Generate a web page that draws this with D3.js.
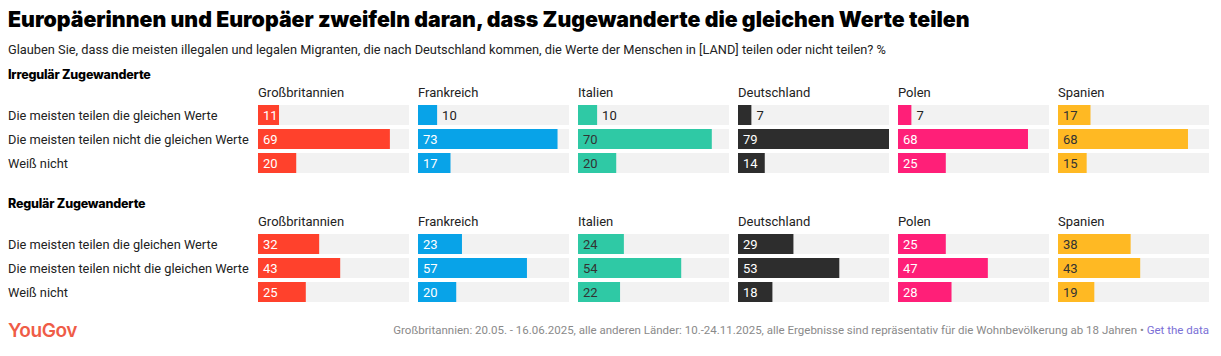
<!DOCTYPE html>
<html>
<head>
<meta charset="utf-8">
<script src="https://cdn.jsdelivr.net/npm/d3@7"></script>
<style>
  html, body { margin: 0; padding: 0; background: #fff; }
  svg { display: block; }
</style>
</head>
<body>
<svg id="chart" width="1221" height="356"></svg>
<script>
const title = "Europäerinnen und Europäer zweifeln daran, dass Zugewanderte die gleichen Werte teilen";
const subtitle = "Glauben Sie, dass die meisten illegalen und legalen Migranten, die nach Deutschland kommen, die Werte der Menschen in [LAND] teilen oder nicht teilen? %";
const sections = ["Irregulär Zugewanderte", "Regulär Zugewanderte"];
const countries = ["Großbritannien", "Frankreich", "Italien", "Deutschland", "Polen", "Spanien"];
const answers = ["Die meisten teilen die gleichen Werte", "Die meisten teilen nicht die gleichen Werte", "Weiß nicht"];
const colors = ["#ff412c", "#08a3e8", "#2fc9a5", "#2d2d2d", "#ff1f78", "#ffb923"];
const labelColors = ["#ffffff", "#ffffff", "#333333", "#ffffff", "#ffffff", "#333333"];
// values per country: [gleichen, nicht gleichen, weiß nicht]
const irregular = [
  [11, 69, 20],
  [10, 73, 17],
  [10, 70, 20],
  [7, 79, 14],
  [7, 68, 25],
  [17, 68, 15]
];
const regular = [
  [32, 43, 25],
  [23, 57, 20],
  [24, 54, 22],
  [29, 53, 18],
  [25, 47, 28],
  [38, 43, 19]
];
const footnote = "Großbritannien: 20.05. - 16.06.2025, alle anderen Länder: 10.-24.11.2025, alle Ergebnisse sind repräsentativ für die Wohnbevölkerung ab 18 Jahren • ";
const linkText = "Get the data";

const svg = d3.select("#chart");
const bodyFont = "Roboto, 'Noto Sans', sans-serif";
const headFont = "Inter, 'Noto Sans', sans-serif";

// Title
svg.append("text").attr("x", 8).attr("y", 27)
  .attr("font-family", headFont).attr("font-weight", 900).attr("font-size", 21.3)
  .attr("fill", "#000").text(title);
svg.append("text").attr("x", 8).attr("y", 54)
  .attr("font-family", bodyFont).attr("font-size", 12.8)
  .attr("fill", "#222").text(subtitle);

const allVals = irregular.flat().concat(regular.flat());
const panelW = 151;
const x = d3.scaleLinear().domain([0, d3.max(allVals)]).range([0, panelW]);
const px = d3.scaleBand().domain(countries).range([258, 258 + 160 * 6 - 9]).paddingInner(9 / 160).paddingOuter(0);
const rowY = d3.scaleBand().domain(answers).range([0, 68]).paddingInner(4 / 24).paddingOuter(0);

const sectionData = [irregular, regular];
const sectionTop = [79, 208];

sectionData.forEach((data, si) => {
  const top = sectionTop[si];
  const g = svg.append("g");
  g.append("text").attr("x", 8).attr("y", top)
    .attr("font-family", headFont).attr("font-weight", 800).attr("font-size", 12.5)
    .attr("letter-spacing", "-0.2px")
    .attr("fill", "#000").text(sections[si]);
  const barTop = top + 26;
  // row labels
  g.selectAll(".rl").data(answers).join("text")
    .attr("x", 8).attr("y", d => barTop + rowY(d) + 14.5)
    .attr("font-family", bodyFont).attr("font-size", 12.8)
    .attr("fill", "#222").text(d => d);
  countries.forEach((c, ci) => {
    const x0 = px(c);
    g.append("text").attr("x", x0).attr("y", top + 18)
      .attr("font-family", bodyFont).attr("font-size", 13)
      .attr("fill", "#222").text(c);
    const rows = answers.map((a, ai) => ({ a, v: data[ci][ai] }));
    g.selectAll(".bg" + ci).data(rows).join("rect")
      .attr("x", x0).attr("y", d => barTop + rowY(d.a))
      .attr("width", panelW).attr("height", rowY.bandwidth())
      .attr("fill", "#f2f2f2");
    g.selectAll(".bar" + ci).data(rows).join("rect")
      .attr("x", x0).attr("y", d => barTop + rowY(d.a))
      .attr("width", d => x(d.v)).attr("height", rowY.bandwidth())
      .attr("fill", colors[ci]);
    g.selectAll(".val" + ci).data(rows).join("text")
      .attr("x", d => d.v <= 10 ? x0 + x(d.v) + 5 : x0 + 5)
      .attr("y", d => barTop + rowY(d.a) + 14.5)
      .attr("font-family", bodyFont).attr("font-size", 13)
      .attr("fill", d => d.v <= 10 ? "#222" : labelColors[ci])
      .text(d => d.v);
  });
});

// Footer
svg.append("text").attr("x", 8).attr("y", 337)
  .attr("font-family", headFont).attr("font-weight", 600).attr("font-size", 19)
  .attr("letter-spacing", "-0.4px")
  .attr("fill", "#ef5c47").text("YouGov");
const ft = svg.append("text").attr("x", 1209).attr("y", 334)
  .attr("text-anchor", "end")
  .attr("font-family", bodyFont).attr("font-size", 11.5);
ft.append("tspan").attr("fill", "#8a8a8a").text(footnote);
ft.append("tspan").attr("fill", "#7b6fd6").text(linkText);
</script>
</body>
</html>
